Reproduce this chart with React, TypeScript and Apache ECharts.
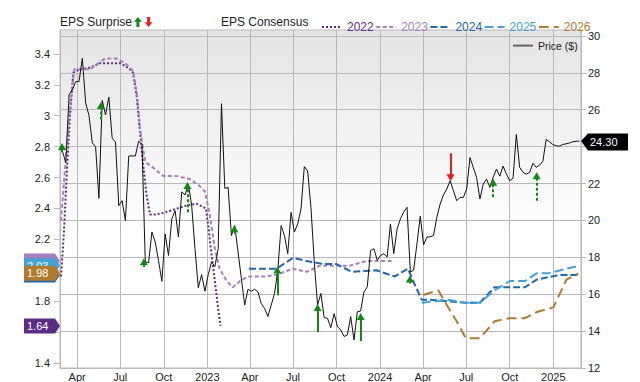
import React, { useEffect, useRef } from 'react';
import * as echarts from 'echarts';

const FONT = '"Liberation Sans", Arial, Helvetica, sans-serif';
const DAY = 86400000;
const ts = (s: string) => Date.parse(s);

// ---- axes ----
const xMinDate = '2022-02-23T19:00:00Z';
const xMaxDate = '2025-02-28T14:00:00Z';
const quarterTicks = [
  '2022-04-01', '2022-07-01', '2022-10-01', '2023-01-01',
  '2023-04-01', '2023-07-01', '2023-10-01', '2024-01-01',
  '2024-04-01', '2024-07-01', '2024-10-01', '2025-01-01',
];
const monthNames = ['Jan', 'Feb', 'Mar', 'Apr', 'May', 'Jun', 'Jul', 'Aug', 'Sep', 'Oct', 'Nov', 'Dec'];
const epsTicks = [1.4, 1.6, 1.8, 2, 2.2, 2.4, 2.6, 2.8, 3, 3.2, 3.4];
// labels that are not covered by the value tags
const epsTickLabels = [1.4, 1.8, 2.2, 2.4, 2.6, 2.8, 3, 3.2, 3.4];
const priceTicks = [12, 14, 16, 18, 20, 22, 24, 26, 28, 30];
const priceTickLabels = [12, 14, 16, 18, 20, 22, 26, 28, 30];

// ---- price (weekly closes) ----
const priceStart = '2022-03-01';
const priceValues = [
  23.75, 23.14, 26.82, 27.09, 27.52, 27.53, 28.79, 26.37, 25.69, 24.21,
  24.0, 21.2, 26.51, 25.72, 26.69, 24.46, 24.25, 20.8, 21.07, 19.99,
  23.49, 23.5, 23.49, 24.3, 24.12, 17.75, 17.71, 19.37, 18.83, 17.82,
  16.7, 19.27, 18.1, 20.08, 20.53, 19.1, 21.55, 21.38, 21.97, 20.8,
  18.47, 16.35, 17.06, 16.16, 17.06, 17.75, 17.5, 18.47, 26.33, 21.74,
  21.79, 19.18, 19.72, 18.29, 16.85, 15.41, 16.27, 16.16, 16.27, 16.13,
  15.5, 15.23, 14.79, 15.41, 16.04, 17.3, 19.72, 19.18, 18.2, 20.44,
  19.37, 19.81, 20.62, 22.92, 22.68, 20.71, 17.75, 15.41, 16.04, 14.73,
  14.69, 14.19, 14.95, 14.25, 14.06, 13.71, 13.79, 14.79, 13.52, 15.05,
  15.09, 16.13, 16.4, 18.37, 18.47, 17.84, 18.1, 18.2, 18.02, 19.81,
  18.2, 19.54, 20.08, 20.46, 20.71, 17.21, 17.3, 18.73, 20.23, 18.68,
  19.1, 19.11, 19.18, 20.17, 20.89, 21.38, 21.7, 22.15, 21.61, 21.07,
  21.25, 21.25, 21.7, 23.41, 22.87, 22.33, 21.16, 21.97, 22.24, 21.79,
  22.34, 22.78, 22.4, 22.95, 22.51, 22.15, 22.29, 24.66, 22.88, 22.61,
  22.51, 22.6, 23.1, 22.88, 22.99, 23.21, 24.39, 24.26, 24.12, 24.04,
  24.03, 24.12, 24.15, 24.2, 24.26, 24.29, 24.3,
];

// ---- EPS consensus by fiscal year ----
const cons2022: [string, number][] = [
  ['2022-02-26', 1.96], ['2022-03-04', 2.24], ['2022-03-10', 2.62], ['2022-03-17', 3.01],
  ['2022-03-24', 3.28], ['2022-04-07', 3.3], ['2022-04-28', 3.31], ['2022-05-19', 3.34],
  ['2022-06-03', 3.34], ['2022-07-01', 3.34], ['2022-07-18', 3.31], ['2022-07-28', 3.28],
  ['2022-08-05', 3.12], ['2022-08-12', 2.89], ['2022-08-19', 2.67], ['2022-08-26', 2.48],
  ['2022-09-02', 2.36], ['2022-09-12', 2.36], ['2022-09-29', 2.37], ['2022-10-20', 2.39],
  ['2022-11-19', 2.42], ['2022-12-10', 2.43], ['2022-12-29', 2.4], ['2023-01-03', 2.29],
  ['2023-01-10', 2.1], ['2023-01-17', 1.93], ['2023-01-24', 1.75], ['2023-01-29', 1.64],
];
const cons2023: [string, number][] = [
  ['2022-02-26', 2.32], ['2022-03-06', 2.64], ['2022-03-17', 3.06], ['2022-03-26', 3.3],
  ['2022-04-28', 3.3], ['2022-05-12', 3.33], ['2022-05-30', 3.37], ['2022-06-23', 3.37],
  ['2022-07-11', 3.34], ['2022-07-28', 3.29], ['2022-08-05', 3.15], ['2022-08-12', 2.91],
  ['2022-08-23', 2.7], ['2022-09-06', 2.67], ['2022-09-30', 2.61], ['2022-10-28', 2.61],
  ['2022-11-25', 2.59], ['2022-12-14', 2.55], ['2022-12-27', 2.51], ['2023-01-05', 2.38],
  ['2023-01-17', 2.14], ['2023-01-27', 2.01], ['2023-02-11', 1.93], ['2023-02-24', 1.89],
  ['2023-03-11', 1.93], ['2023-03-28', 1.96], ['2023-05-02', 1.96], ['2023-05-27', 1.97],
  ['2023-07-01', 2.01], ['2023-07-30', 1.99], ['2023-08-27', 2.03], ['2023-10-29', 2.03],
  ['2023-12-03', 2.06], ['2023-12-31', 2.06], ['2024-01-29', 2.06],
];
const cons2024: [string, number][] = [
  ['2023-03-30', 2.01], ['2023-05-27', 2.01], ['2023-07-01', 2.08], ['2023-07-30', 2.06],
  ['2023-09-03', 2.04], ['2023-10-01', 2.04], ['2023-11-02', 1.99], ['2023-12-24', 2.0],
  ['2024-02-01', 1.96], ['2024-02-29', 2.01], ['2024-03-11', 1.93], ['2024-03-29', 1.81],
  ['2024-04-15', 1.81], ['2024-05-20', 1.8], ['2024-06-28', 1.79], ['2024-07-30', 1.79],
  ['2024-08-30', 1.89], ['2024-10-08', 1.89], ['2024-11-02', 1.89], ['2024-11-27', 1.94],
  ['2025-01-15', 1.97], ['2025-02-08', 1.97], ['2025-02-26', 1.97],
];
const cons2025: [string, number][] = [
  ['2024-03-29', 1.79], ['2024-04-30', 1.8], ['2024-05-20', 1.81], ['2024-06-28', 1.79],
  ['2024-07-30', 1.79], ['2024-08-30', 1.87], ['2024-10-01', 1.93], ['2024-11-02', 1.93],
  ['2024-11-27', 1.98], ['2024-12-21', 1.98], ['2025-01-29', 2.01], ['2025-02-26', 2.03],
];
const cons2026: [string, number][] = [
  ['2024-04-01', 1.84], ['2024-05-03', 1.87], ['2024-05-20', 1.78], ['2024-06-11', 1.67],
  ['2024-06-30', 1.56], ['2024-07-30', 1.56], ['2024-08-30', 1.67], ['2024-10-01', 1.69],
  ['2024-11-02', 1.69], ['2024-11-27', 1.73], ['2025-01-01', 1.76], ['2025-01-29', 1.94],
  ['2025-02-23', 1.98],
];
const consYears = ['2022', '2023', '2024', '2025', '2026'];
// tags whose label text is visible (others sit fully under a later tag)
const tagTextVisible = [true, false, false, true, true];

// ---- EPS surprises (drawn at price level) ----
const surpriseDates = [
  '2022-02-28', '2022-05-21', '2022-08-20', '2022-11-20', '2023-02-27', '2023-05-29',
  '2023-08-22', '2023-11-21', '2024-03-04', '2024-05-29', '2024-08-27', '2024-11-27',
];
const surpriseFrom = [23.69, 25.47, 17.48, 20.44, 19.27, 15.95, 13.94, 13.47, 16.58, 23.64, 21.25, 21.07];
const surpriseTo = [24.01, 26.23, 17.76, 21.89, 19.55, 17.31, 15.28, 14.79, 16.82, 22.32, 22.07, 22.42];
const surpriseSolid = [false, false, false, false, false, true, true, true, false, true, false, false];

// ---- styles ----
const consColors = ['#5a2c84', '#a57fc0', '#2365b1', '#42a3d4', '#b07b2f'];
const consDash: any[] = [[2, 2], [4, 2.5], [7, 3], [9, 4], [10, 5]];
const GREEN = '#128a12';
const RED = '#ee1c1c';
const GRID_COLOR = '#b9b9b9';
const TEXT = '#222222';

export default function App() {
  const ref = useRef<HTMLDivElement>(null);

  useEffect(() => {
    const el = ref.current;
    if (!el) return;
    const chart = echarts.init(el, null, { renderer: 'svg' });
    const xMin = ts(xMinDate);
    const xMax = ts(xMaxDate);
    const priceData = priceValues.map((v, i) => [ts(priceStart) + i * 7 * DAY, v]);
    const consSets = [cons2022, cons2023, cons2024, cons2025, cons2026];

    const gridMarkLine = {
      silent: true,
      z: 1,
      symbol: ['none', 'none'],
      label: { show: false },
      lineStyle: { color: GRID_COLOR, type: 'solid', width: 1 },
      emphasis: { disabled: true },
      data: quarterTicks.map((d) => ({ xAxis: ts(d) })),
    };

    const arrowMarkLine = {
      silent: true,
      z: 6,
      symbol: ['none', 'triangle'],
      symbolSize: [8, 7],
      label: { show: false },
      emphasis: { disabled: true },
      data: surpriseDates.map((d, i) => {
        const up = surpriseTo[i] > surpriseFrom[i];
        const color = up ? GREEN : RED;
        return [
          {
            coord: [ts(d), surpriseFrom[i]],
            lineStyle: { color, width: 2, type: surpriseSolid[i] ? 'solid' : [3, 2] },
            itemStyle: { color },
          },
          { coord: [ts(d), surpriseTo[i]] },
        ];
      }),
    };

    const consSeries = consSets.map((set, i) => ({
      name: consYears[i],
      type: 'line',
      yAxisIndex: 0,
      symbol: 'none',
      z: 3,
      data: set.map(([d, v]) => [ts(d), v]),
      lineStyle: { color: consColors[i], width: 2, type: consDash[i] },
      itemStyle: { color: consColors[i] },
      ...(i === 0 ? { markLine: gridMarkLine } : {}),
    }));

    const hiddenSymbol = { color: 'rgba(0,0,0,0)', borderWidth: 0, opacity: 0 };

    const option: any = {
      animation: false,
      textStyle: { fontFamily: FONT },
      grid: {
        left: 60, right: 59, top: 30, bottom: 12,
        show: true, z: -1,
        borderColor: GRID_COLOR, borderWidth: 1,
        backgroundColor: new echarts.graphic.LinearGradient(0, 0, 0, 1, [
          { offset: 0, color: '#e4e4e4' },
          { offset: 0.6, color: '#ffffff' },
          { offset: 1, color: '#ffffff' },
        ]),
      },
      legend: [
        {
          data: consYears.map((y, i) => ({ name: y, textStyle: { color: consColors[i] } })),
          left: 316, top: 16, itemWidth: 20, itemHeight: 14, itemGap: 1.5,
          selectedMode: false,
          itemStyle: hiddenSymbol,
          textStyle: { fontSize: 12, fontFamily: FONT },
        },
        {
          data: ['Price ($)'],
          left: 507, top: 35, itemWidth: 20, itemHeight: 14,
          selectedMode: false,
          itemStyle: hiddenSymbol,
          lineStyle: { color: '#666666', width: 2, type: 'solid' },
          textStyle: { fontSize: 10.5, color: TEXT, fontFamily: FONT },
        },
      ],
      xAxis: {
        type: 'value',
        min: xMin,
        max: xMax,
        axisLine: { show: true, lineStyle: { color: GRID_COLOR } },
        axisTick: { show: false },
        splitLine: { show: false },
        axisLabel: {
          customValues: quarterTicks.map(ts),
          formatter: (v: number) => {
            const d = new Date(v);
            const m = d.getUTCMonth();
            return m === 0 ? String(d.getUTCFullYear()) : monthNames[m];
          },
          color: TEXT, fontSize: 11, margin: 3, fontFamily: FONT,
        },
      },
      yAxis: [
        {
          type: 'value',
          position: 'left',
          min: 1.3678,
          max: 3.5543,
          axisLine: { show: true, lineStyle: { color: GRID_COLOR } },
          axisTick: { show: true, length: 6, customValues: epsTicks, lineStyle: { color: GRID_COLOR } },
          axisLabel: { customValues: epsTickLabels, color: TEXT, fontSize: 11, margin: 10, fontFamily: FONT },
          splitLine: { show: false },
        },
        {
          type: 'value',
          position: 'right',
          min: 12,
          max: 30.323,
          interval: 2,
          axisLine: { show: true, lineStyle: { color: GRID_COLOR } },
          axisTick: { show: true, length: 5, customValues: priceTicks, lineStyle: { color: GRID_COLOR } },
          axisLabel: { customValues: priceTickLabels, color: TEXT, fontSize: 11, margin: 7, fontFamily: FONT },
          splitLine: { show: true, lineStyle: { color: GRID_COLOR, width: 1 } },
        },
      ],
      series: [
        ...consSeries,
        {
          name: 'Price ($)',
          type: 'line',
          yAxisIndex: 1,
          symbol: 'none',
          z: 4,
          data: priceData,
          lineStyle: { color: '#111111', width: 1 },
          itemStyle: { color: '#111111' },
          markLine: arrowMarkLine,
        },
      ],
    };

    chart.setOption(option);

    // positions taken from the library's scales
    const gx0 = chart.convertToPixel({ xAxisIndex: 0 }, xMin) as number;
    const gx1 = chart.convertToPixel({ xAxisIndex: 0 }, xMax) as number;

    const graphics: any[] = [
      {
        type: 'text', left: 60, top: 16,
        style: { text: 'EPS Surprise', fill: TEXT, font: `12px ${FONT}` },
      },
      {
        type: 'polygon',
        shape: { points: [[137.9, 17], [141.8, 21.8], [139.4, 21.8], [139.4, 27], [136.4, 27], [136.4, 21.8], [134, 21.8]] },
        style: { fill: GREEN },
      },
      {
        type: 'polygon',
        shape: { points: [[148.6, 27], [152.5, 22.2], [150.1, 22.2], [150.1, 17], [147.1, 17], [147.1, 22.2], [144.7, 22.2]] },
        style: { fill: RED },
      },
      {
        type: 'text', left: 221, top: 16,
        style: { text: 'EPS Consensus', fill: TEXT, font: `12px ${FONT}` },
      },
    ];
    consSets.forEach((set, i) => {
      const v = set[set.length - 1][1];
      const y = chart.convertToPixel({ yAxisIndex: 0 }, v) as number;
      graphics.push({
        type: 'polygon', z: 20 + i,
        shape: { points: [[gx0 - 36, y - 7.5], [gx0 - 5, y - 7.5], [gx0, y], [gx0 - 5, y + 7.5], [gx0 - 36, y + 7.5]] },
        style: { fill: consColors[i] },
      });
      if (tagTextVisible[i]) {
        graphics.push({
          type: 'text', z: 20 + i, x: gx0 - 33, y,
          style: { text: v.toFixed(2), fill: '#ffffff', font: `11px ${FONT}`, verticalAlign: 'middle' },
        });
      }
    });
    const lastPrice = priceValues[priceValues.length - 1];
    const py = (chart.convertToPixel({ yAxisIndex: 1 }, lastPrice) as number) + 1;
    graphics.push({
      type: 'polygon', z: 30,
      shape: { points: [[gx1, py - 1], [gx1 + 7, py - 8.5], [gx1 + 47, py - 8.5], [gx1 + 47, py + 8.5], [gx1 + 7, py + 8.5]] },
      style: { fill: '#000000' },
    });
    graphics.push({
      type: 'text', z: 31, x: gx1 + 9, y: py,
      style: { text: lastPrice.toFixed(2), fill: '#ffffff', font: `11px ${FONT}`, verticalAlign: 'middle' },
    });
    chart.setOption({ graphic: graphics });

    return () => chart.dispose();
  }, []);

  return <div ref={ref} style={{ position: 'absolute', left: 0, top: 0, width: 640, height: 382 }} />;
}
